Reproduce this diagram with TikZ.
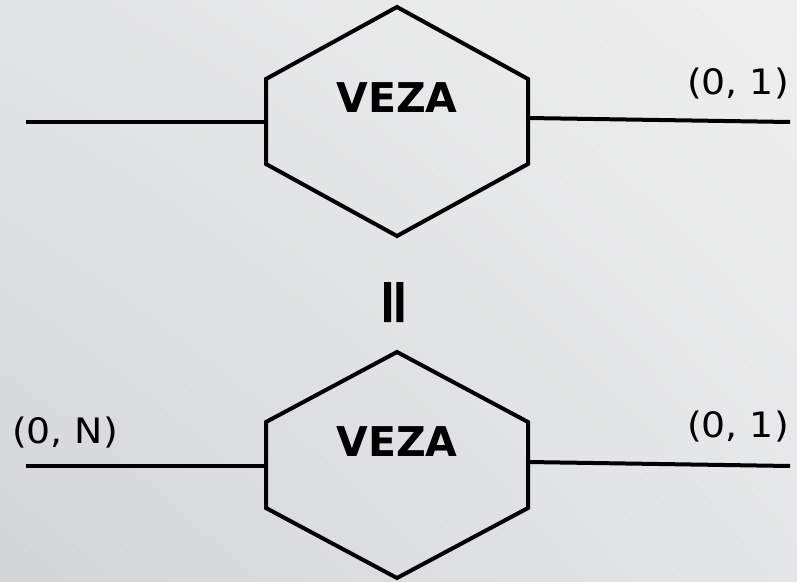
\documentclass[tikz,border=0pt]{standalone}
\usepackage{fontspec}
\setmainfont{DejaVu Sans}
\newfontfamily\cardfont{DejaVu Sans}[FakeStretch=1.08]
\newfontfamily\equivfont{DejaVu Sans}[FakeBold=3]
\usetikzlibrary{shadings}
\begin{document}
\begin{tikzpicture}[x=1pt,y=-1pt,
  hexa/.style={draw=black, line width=4pt, line join=miter},
  conn/.style={draw=black, line width=4pt},
  relname/.style={inner sep=0pt, font=\fontsize{41}{41}\selectfont\bfseries},
  card/.style={inner sep=0pt, font=\fontsize{35}{35}\cardfont},
  equiv/.style={inner sep=0pt, rotate=90, font=\fontsize{61}{61}\equivfont}]
\shade[upper left={rgb,255:red,227;green,228;blue,229},
       upper right={rgb,255:red,239;green,239;blue,239},
       lower left={rgb,255:red,211;green,213;blue,214},
       lower right={rgb,255:red,229;green,230;blue,231}]
  (0,0) rectangle (797,581);
\useasboundingbox (0,0) rectangle (797,581);
% top relationship
\coordinate (an) at (397,7);
\coordinate (ane) at (528,79);
\coordinate (ase) at (528,164);
\coordinate (as) at (397,236);
\coordinate (asw) at (266,164);
\coordinate (anw) at (266,79);
\draw[hexa] (an) -- (ane) -- (ase) -- (as) -- (asw) -- (anw) -- cycle;
\node[relname] (av) at (397,98) {VEZA};
\coordinate (aw) at (266,122);
\coordinate (ae) at (528,118);
\coordinate (aL) at (26,122);
\coordinate (aR) at (790,122);
\draw[conn] (aL) -- (aw);
\draw[conn] (ae) -- (aR);
\node[card, anchor=base east] (ac) at (789,94) {(0, 1)};
% equivalence sign
\node[equiv] (eq) at (399,302) {=};
% bottom relationship
\coordinate (bn) at (397,352);
\coordinate (bne) at (528,422);
\coordinate (bse) at (528,508);
\coordinate (bs) at (397,578);
\coordinate (bsw) at (266,508);
\coordinate (bnw) at (266,422);
\draw[hexa] (bn) -- (bne) -- (bse) -- (bs) -- (bsw) -- (bnw) -- cycle;
\node[relname] (bv) at (397,442) {VEZA};
\coordinate (bw) at (266,466);
\coordinate (be) at (528,462);
\coordinate (bL) at (26,466);
\coordinate (bR) at (790,466);
\draw[conn] (bL) -- (bw);
\draw[conn] (be) -- (bR);
\node[card, anchor=base west] (bcl) at (12,443) {(0, N)};
\node[card, anchor=base east] (bcr) at (789,437) {(0, 1)};
\end{tikzpicture}
\end{document}
